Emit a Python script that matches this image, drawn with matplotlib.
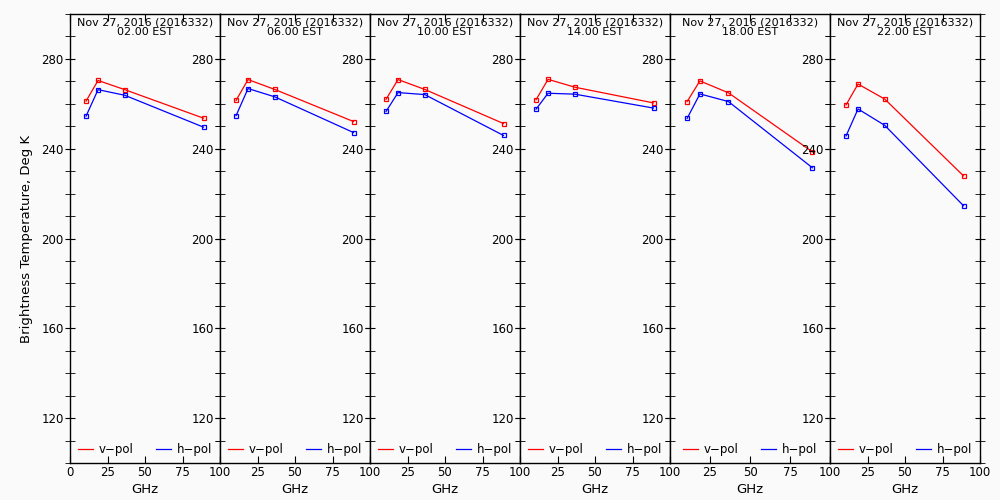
import matplotlib
matplotlib.use("Agg")
import matplotlib.pyplot as plt
from matplotlib.ticker import MultipleLocator, FuncFormatter
from matplotlib.lines import Line2D

freqs = [10.7, 18.7, 36.5, 89.0]
times = ["02.00 EST", "06.00 EST", "10.00 EST", "14.00 EST", "18.00 EST", "22.00 EST"]
date_label = "Nov 27, 2016 (2016332)"

vpol = [
    [261.2, 270.4, 266.3, 253.6],
    [261.5, 270.8, 266.4, 252.1],
    [262.0, 270.8, 266.4, 251.2],
    [261.8, 270.9, 267.4, 260.4],
    [261.0, 270.2, 264.9, 238.6],
    [259.5, 268.8, 262.1, 227.9],
]
hpol = [
    [254.5, 266.3, 263.8, 249.6],
    [254.7, 266.8, 263.1, 247.2],
    [256.6, 265.0, 264.1, 245.9],
    [257.6, 264.7, 264.3, 258.1],
    [253.5, 264.4, 261.0, 231.5],
    [245.7, 257.7, 250.4, 214.6],
]

bg = "#fafafa"
plt.rcParams['font.family'] = ['DejaVu Sans']
fig = plt.figure(figsize=(10, 5), dpi=100, facecolor=bg)

edges = [(70, 220), (220, 370), (370, 520), (520, 670), (670, 830), (830, 980)]
bottom = 1 - 463 / 500
top = 1 - 14 / 500

for i, (x0, x1) in enumerate(edges):
    ax = fig.add_axes([x0 / 1000, bottom, (x1 - x0) / 1000, top - bottom])
    ax.set_facecolor(bg)
    ax.plot(freqs, vpol[i], color='red', lw=0.9, marker='s', ms=3.2,
            mfc='none', mec='red', mew=0.9)
    ax.plot(freqs, hpol[i], color='blue', lw=0.9, marker='s', ms=3.2,
            mfc='none', mec='blue', mew=0.9)
    ax.set_xlim(0, 100)
    ax.set_ylim(100, 300)
    ax.set_xticks([0, 25, 50, 75, 100])
    if i > 0:
        ax.xaxis.set_major_formatter(FuncFormatter(lambda v, p: "" if v == 0 else f"{v:.0f}"))
    ax.set_yticks([120, 160, 200, 240, 280])
    ax.yaxis.set_minor_locator(MultipleLocator(10))
    ax.tick_params(axis='x', direction='in', top=True, bottom=True, length=5,
                   labelsize=8.5, pad=2)
    ax.tick_params(axis='y', which='both', direction='inout', left=True, right=True,
                   length=7, labelsize=8.5, pad=1)
    if i == 0:
        ax.set_ylabel("Brightness Temperature, Deg K", fontsize=9.5, labelpad=6)
    ax.set_xlabel("GHz", fontsize=9.5, labelpad=3)
    ax.set_title(date_label + "\n" + times[i], fontsize=8, y=1.0, pad=-15,
                 linespacing=0.95)
    handles = [Line2D([], [], color='red', lw=0.9), Line2D([], [], color='blue', lw=0.9)]
    ax.legend(handles, ['v\u2212pol', 'h\u2212pol'], loc='lower center', ncol=2,
              frameon=False, fontsize=8.5, handlelength=1.3, columnspacing=1.9,
              handletextpad=0.45, borderaxespad=0.2, bbox_to_anchor=(0.5, 0.0))
    for s in ax.spines.values():
        s.set_linewidth(1.0)

fig.savefig("out.png", dpi=100, facecolor=bg)
